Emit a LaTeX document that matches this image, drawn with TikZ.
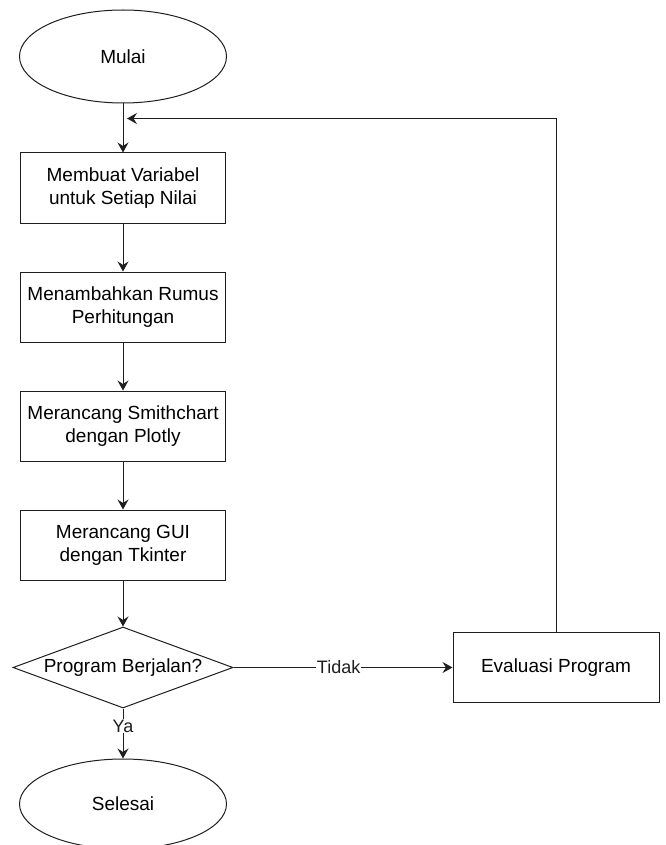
\documentclass[tikz,border=0pt]{standalone}
\usepackage{fontspec}
\setmainfont{Liberation Sans}
\usepackage{tikz}
\usetikzlibrary{arrows.meta,positioning,calc,shapes.geometric}
\usepackage{xcolor}
\definecolor{flowline}{RGB}{30,30,30}
\tikzset{
  base/.style={draw=flowline,line width=1pt,font=\fontsize{19}{23}\selectfont,
               align=center,inner sep=0pt},
  term/.style={base,ellipse,minimum width=207pt,minimum height=93pt},
  proc/.style={base,rectangle,minimum width=205pt,minimum height=70pt},
  dec/.style={base,diamond,aspect=2.7,minimum width=220pt,minimum height=81pt},
  ge/.style={-{Stealth[length=10pt,width=11pt,inset=3.5pt]},line width=1pt,flowline},
  lbl/.style={font=\fontsize{18}{22}\selectfont,fill=white,inner sep=1pt},
}

\begin{document}
\begin{tikzpicture}[x=1pt,y=1pt,node distance=48pt]
    \useasboundingbox (0,0) rectangle (665,-845);
    \node[term] (mulai) at (123,-56.5) {Mulai};
    \node[proc,below=49pt of mulai] (var) {Membuat Variabel\\untuk Setiap Nilai};
    \node[proc,below=of var] (rumus) {Menambahkan Rumus\\Perhitungan};
    \node[proc,below=of rumus] (smith) {Merancang Smithchart\\dengan Plotly};
    \node[proc,below=of smith] (gui) {Merancang GUI\\dengan Tkinter};
    \node[dec,below=46pt of gui] (jalan) {Program Berjalan?};
    \node[term,minimum height=90pt,below=50pt of jalan] (selesai) {Selesai};
    \node[proc,minimum width=206pt,right=219pt of jalan] (eval) {Evaluasi Program};
    \coordinate[below=15pt of mulai.south,xshift=4pt] (join);
    % main flow
    \draw[ge] (mulai) -- (var);
    \draw[ge] (var) -- (rumus);
    \draw[ge] (rumus) -- (smith);
    \draw[ge] (smith) -- (gui);
    \draw[ge] (gui) -- (jalan);
    \draw[ge] (jalan) -- (selesai) node[lbl,pos=0.35]{Ya};
    \draw[ge] (jalan) -- (eval) node[lbl,pos=0.48]{Tidak};
    % back to start
    \draw[ge] (eval.north) |- (join);
  \end{tikzpicture}
\end{document}
